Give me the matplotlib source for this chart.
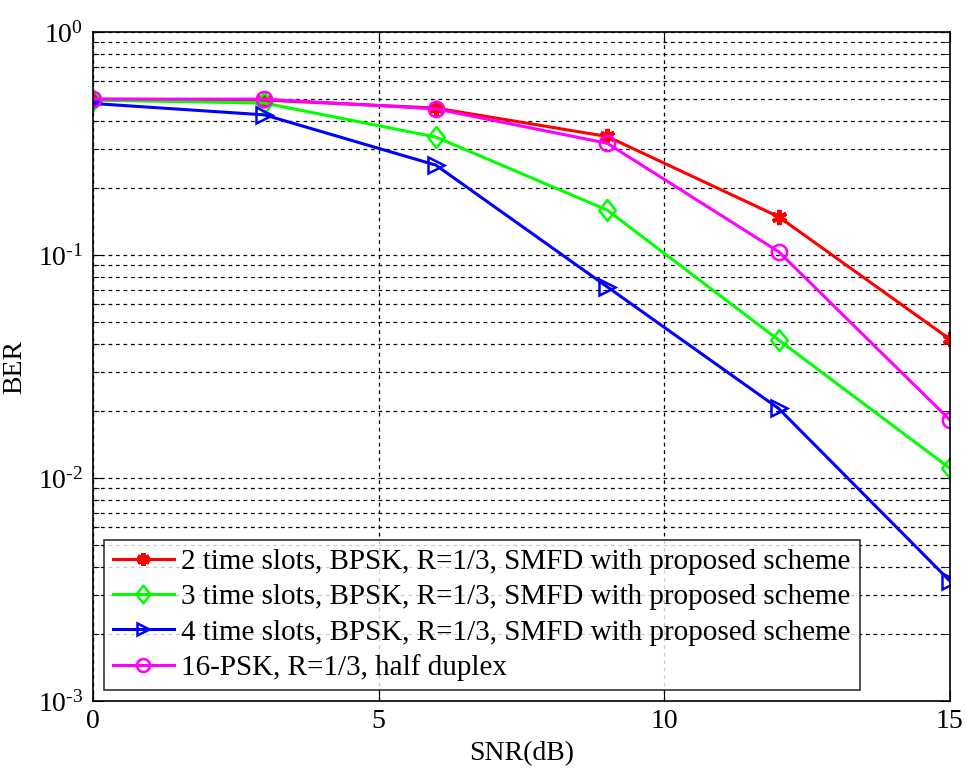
import matplotlib
matplotlib.use("Agg")
import matplotlib.pyplot as plt
from matplotlib.ticker import LogLocator, FixedLocator, NullFormatter, FuncFormatter
from matplotlib.path import Path
import math

plt.rcParams['font.family'] = ['Liberation Serif', 'DejaVu Serif']
plt.rcParams['mathtext.fontset'] = 'custom'
plt.rcParams['mathtext.rm'] = 'Liberation Serif'
plt.rcParams['mathtext.it'] = 'Liberation Serif:italic'
plt.rcParams['mathtext.bf'] = 'Liberation Serif:bold'

snr = [0, 3, 6, 9, 12, 15]
ber_2slots = [0.50, 0.495, 0.456, 0.34, 0.1485, 0.0419]
ber_3slots = [0.495, 0.48, 0.338, 0.159, 0.0416, 0.01105]
ber_4slots = [0.478, 0.425, 0.253, 0.072, 0.0205, 0.00345]
ber_16psk = [0.50, 0.50, 0.452, 0.317, 0.1035, 0.0182]

labels = [
    "2 time slots, BPSK, R=1/3, SMFD with proposed scheme",
    "3 time slots, BPSK, R=1/3, SMFD with proposed scheme",
    "4 time slots, BPSK, R=1/3, SMFD with proposed scheme",
    "16-PSK, R=1/3, half duplex",
]
xticks = [0, 5, 10, 15]

diamond = Path([(0, 1), (0.8, 0), (0, -1), (-0.8, 0), (0, 1)],
               [Path.MOVETO, Path.LINETO, Path.LINETO, Path.LINETO, Path.CLOSEPOLY])

fig = plt.figure(figsize=(9.66, 7.71), dpi=100)
ax = fig.add_axes([0.0963, 0.0908, 0.8871, 0.8677])

ms = 11
lw = 2.2
ax.plot(snr, ber_2slots, color='#ff0000', marker=(6, 2, 0), ms=ms, mew=3.0, lw=lw, label=labels[0])
ax.plot(snr, ber_3slots, color='#00ff00', marker=diamond, ms=15, mfc='none', mew=1.8, lw=lw, label=labels[1])
ax.plot(snr, ber_4slots, color='#0000ff', marker='>', ms=ms, mfc='none', mew=1.8, lw=lw, label=labels[2])
ax.plot(snr, ber_16psk, color='#ff00ff', marker='o', ms=ms, mfc='none', mew=1.8, lw=lw, label=labels[3])

ax.set_yscale('log')
ax.set_xlim(0, 15)
ax.set_ylim(1e-3, 1)
ax.xaxis.set_major_locator(FixedLocator(xticks))
ax.set_xticklabels([str(t) for t in xticks])
ax.yaxis.set_major_locator(LogLocator(base=10, numticks=10))
ax.yaxis.set_major_formatter(FuncFormatter(
    lambda v, p: r'$10^{\text{%d}}$' % int(round(math.log10(v)))))
ax.yaxis.set_minor_locator(LogLocator(base=10, subs=range(2, 10), numticks=20))
ax.yaxis.set_minor_formatter(NullFormatter())

ax.grid(True, which='major', axis='x', color='black', linestyle=(0, (3, 3)), lw=0.9)
ax.grid(True, which='both', axis='y', color='black', linestyle=(0, (3, 3)), lw=0.9)
ax.set_axisbelow(True)

ax.tick_params(which='both', direction='in', top=True, right=True, labelsize=20)
ax.tick_params(axis='x', pad=6)
ax.tick_params(axis='y', pad=7)
ax.tick_params(which='major', length=7)
ax.tick_params(which='minor', length=4)
for s in ax.spines.values():
    s.set_linewidth(1.2)

ax.set_xlabel('SNR(dB)', fontsize=20, labelpad=5)
ax.set_ylabel('BER', fontsize=20, labelpad=8)

leg = ax.legend(loc='lower left', bbox_to_anchor=(0.0128, 0.0164), borderaxespad=0,
                fontsize=21, frameon=True, fancybox=False, edgecolor='black',
                handlelength=2.1, handletextpad=0.25, labelspacing=0.3, borderpad=0.3,
                markerscale=0.85)
leg.get_frame().set_linewidth(1.2)

fig.savefig('out.png', dpi=100)
